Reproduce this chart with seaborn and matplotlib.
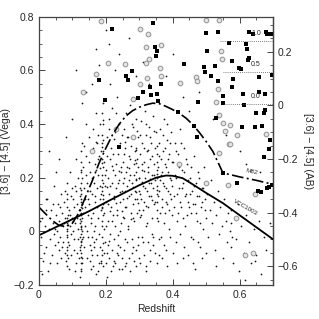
import numpy as np
import pandas as pd
import matplotlib
matplotlib.use("Agg")
import matplotlib.pyplot as plt
import seaborn as sns
from matplotlib.ticker import FixedLocator, FuncFormatter

# Vega -> AB offset for [3.6]-[4.5]
ab_offset = 0.47

# template tracks (redshift, Vega colour)
m82_z = [0.0, 0.02, 0.04, 0.06, 0.08, 0.10, 0.12, 0.14, 0.16, 0.18, 0.20, 0.22, 0.24,
         0.26, 0.28, 0.30, 0.32, 0.34, 0.36, 0.38, 0.40, 0.42, 0.44, 0.46, 0.48, 0.50,
         0.52, 0.54, 0.55, 0.60, 0.65, 0.70]
m82_v = [0.09, 0.065, 0.04, 0.022, 0.018, 0.03, 0.07, 0.13, 0.19, 0.255, 0.31, 0.36, 0.40,
         0.43, 0.45, 0.463, 0.472, 0.478, 0.476, 0.466, 0.454, 0.440, 0.422, 0.398, 0.368,
         0.335, 0.298, 0.245, 0.218, 0.203, 0.19, 0.175]

vcc_z = [0.0, 0.05, 0.10, 0.15, 0.20, 0.25, 0.30, 0.35, 0.38, 0.40, 0.43, 0.46, 0.50,
         0.55, 0.60, 0.65, 0.70]
vcc_v = [-0.015, 0.015, 0.045, 0.075, 0.108, 0.14, 0.172, 0.20, 0.208, 0.207, 0.198, 0.175,
         0.143, 0.105, 0.06, 0.015, -0.03]

# black squares
sq_z = [0.218, 0.341, 0.179, 0.197, 0.260, 0.266, 0.278, 0.296, 0.311, 0.332, 0.335, 0.353,
        0.356, 0.347, 0.353, 0.350, 0.434, 0.365, 0.239, 0.500, 0.535, 0.628, 0.640, 0.679,
        0.682, 0.694, 0.568, 0.619, 0.622, 0.502, 0.577, 0.625, 0.628, 0.494, 0.526, 0.598,
        0.604, 0.497, 0.514, 0.580, 0.658, 0.697, 0.535, 0.577, 0.550, 0.610, 0.658, 0.676,
        0.476, 0.550, 0.613, 0.649, 0.673, 0.676, 0.529, 0.607, 0.646, 0.667, 0.464, 0.416,
        0.691, 0.688, 0.673, 0.550, 0.592, 0.655, 0.664, 0.682, 0.688, 0.697, 0.473]
sq_v = [0.755, 0.778, 0.565, 0.490, 0.580, 0.565, 0.599, 0.498, 0.520, 0.539, 0.509, 0.513,
        0.487, 0.688, 0.673, 0.654, 0.625, 0.550, 0.315, 0.740, 0.744, 0.744, 0.737, 0.744,
        0.737, 0.737, 0.703, 0.699, 0.681, 0.673, 0.636, 0.640, 0.647, 0.613, 0.617, 0.610,
        0.606, 0.595, 0.580, 0.569, 0.576, 0.584, 0.561, 0.539, 0.505, 0.513, 0.520, 0.513,
        0.483, 0.479, 0.472, 0.442, 0.442, 0.453, 0.423, 0.390, 0.390, 0.393, 0.393, 0.446,
        0.341, 0.307, 0.278, 0.218, 0.181, 0.151, 0.147, 0.162, 0.166, 0.173, 0.352]

# grey open circles
ci_z = [0.185, 0.206, 0.170, 0.132, 0.302, 0.326, 0.320, 0.365, 0.329, 0.320, 0.257, 0.362,
        0.365, 0.422, 0.302, 0.323, 0.281, 0.470, 0.500, 0.538, 0.544, 0.547, 0.473, 0.535,
        0.538, 0.550, 0.556, 0.592, 0.679, 0.568, 0.538, 0.565, 0.646, 0.529, 0.571, 0.571,
        0.616, 0.640, 0.230, 0.160, 0.280, 0.420, 0.500, 0.590]
ci_v = [0.785, 0.628, 0.587, 0.520, 0.755, 0.737, 0.688, 0.696, 0.643, 0.628, 0.625, 0.610,
        0.580, 0.554, 0.550, 0.572, 0.494, 0.576, 0.789, 0.789, 0.673, 0.643, 0.561, 0.531,
        0.434, 0.405, 0.375, 0.360, 0.363, 0.326, 0.293, 0.173, 0.140, 0.483, 0.397, 0.326,
        -0.088, -0.081, 0.380, 0.300, 0.350, 0.250, 0.180, 0.050]

# background galaxy cloud (redshift, Vega colour)
cloud_low = [
    (0.005, -0.02), (0.010, 0.05), (0.012, -0.11), (0.018, 0.02), (0.022, -0.06), (0.025, 0.12),
    (0.028, -0.15), (0.031, 0.01), (0.034, -0.03), (0.036, 0.08), (0.039, -0.09), (0.041, 0.03),
    (0.044, -0.01), (0.046, 0.17), (0.048, -0.05), (0.051, 0.06), (0.053, -0.12), (0.055, 0.00),
    (0.057, 0.10), (0.059, -0.07), (0.061, 0.04), (0.063, -0.02), (0.065, 0.14), (0.067, -0.10),
    (0.069, 0.07), (0.071, 0.02), (0.073, -0.04), (0.075, 0.11), (0.077, -0.08), (0.079, 0.05),
    (0.082, -0.11), (0.083, -0.06), (0.084, -0.02), (0.085, 0.01), (0.083, 0.03), (0.086, 0.06),
    (0.084, 0.09), (0.085, -0.09), (0.083, 0.12), (0.086, -0.04), (0.084, 0.18), (0.085, 0.00),
    (0.083, -0.13), (0.086, 0.04), (0.089, 0.08), (0.091, -0.05), (0.093, 0.02), (0.095, 0.13),
    (0.097, -0.09), (0.099, 0.05), (0.092, 0.22), (0.096, -0.01), (0.098, 0.16), (0.090, -0.14),
    (0.003, 0.04), (0.015, -0.08), (0.020, 0.08), (0.033, -0.12), (0.043, 0.10), (0.049, 0.01),
    (0.058, -0.04), (0.062, 0.09), (0.068, -0.06), (0.074, 0.03), (0.078, 0.15), (0.084, -0.07),
    (0.085, 0.05), (0.084, 0.14), (0.083, -0.015), (0.086, 0.025), (0.088, -0.10), (0.094, 0.06),
]
cloud_013 = [
    (0.124, -0.17), (0.127, -0.14), (0.125, -0.12), (0.128, -0.10), (0.126, -0.08), (0.123, -0.07),
    (0.127, -0.05), (0.125, -0.04), (0.129, -0.03), (0.124, -0.02), (0.126, -0.01), (0.128, 0.00),
    (0.125, 0.01), (0.127, 0.02), (0.124, 0.03), (0.126, 0.04), (0.128, 0.05), (0.125, 0.06),
    (0.127, 0.07), (0.123, 0.08), (0.126, 0.09), (0.129, 0.10), (0.125, 0.12), (0.127, 0.14),
    (0.124, 0.16), (0.126, 0.18), (0.128, 0.20), (0.125, 0.23), (0.127, 0.26), (0.126, 0.30),
    (0.130, 0.33), (0.124, -0.06), (0.126, 0.11), (0.128, -0.12), (0.102, 0.00), (0.104, -0.07),
    (0.106, 0.09), (0.108, 0.03), (0.110, -0.12), (0.112, 0.15), (0.114, 0.05), (0.116, -0.03),
    (0.118, 0.20), (0.119, 0.08), (0.133, 0.24), (0.135, -0.06), (0.137, 0.12), (0.139, 0.02),
    (0.141, 0.28), (0.143, -0.10), (0.145, 0.18), (0.147, 0.06), (0.149, 0.35), (0.136, 0.32),
    (0.142, 0.40), (0.146, -0.02), (0.138, 0.09), (0.111, 0.27), (0.107, -0.15),
    (0.101, 0.12), (0.103, 0.04), (0.105, -0.03), (0.109, 0.17), (0.113, -0.08), (0.115, 0.10),
    (0.117, 0.01), (0.121, -0.10), (0.122, 0.13), (0.131, 0.07), (0.132, -0.02), (0.134, 0.16),
    (0.140, 0.21), (0.144, 0.00), (0.148, 0.12), (0.125, -0.15), (0.127, 0.22), (0.124, 0.045),
    (0.126, -0.035), (0.128, 0.085), (0.125, 0.155), (0.127, -0.095), (0.126, 0.015), (0.124, 0.065),
]
cloud_mid = [
    (0.151, 0.10), (0.152, -0.05), (0.154, 0.22), (0.156, 0.03), (0.157, 0.30), (0.159, 0.14),
    (0.160, -0.09), (0.162, 0.07), (0.163, 0.38), (0.165, 0.18), (0.166, 0.00), (0.168, 0.25),
    (0.169, 0.11), (0.171, 0.44), (0.172, -0.03), (0.174, 0.16), (0.175, 0.33), (0.177, 0.05),
    (0.178, 0.21), (0.180, 0.28), (0.181, -0.12), (0.183, 0.12), (0.184, 0.40), (0.186, 0.08),
    (0.188, -0.07), (0.189, -0.02), (0.190, 0.02), (0.191, 0.06), (0.189, 0.09), (0.192, 0.12),
    (0.190, 0.15), (0.191, 0.18), (0.189, 0.21), (0.192, 0.24), (0.190, 0.27), (0.191, 0.30),
    (0.189, 0.33), (0.190, 0.36), (0.192, 0.40), (0.190, 0.44), (0.191, 0.48), (0.189, 0.04),
    (0.191, 0.10), (0.190, 0.19), (0.194, 0.07), (0.196, 0.26), (0.198, -0.04), (0.199, 0.17),
    (0.150, 0.26), (0.153, 0.15), (0.155, 0.05), (0.158, 0.20), (0.161, 0.31), (0.164, -0.06),
    (0.167, 0.13), (0.170, 0.23), (0.173, 0.09), (0.176, 0.36), (0.179, -0.01), (0.182, 0.17),
    (0.185, 0.30), (0.187, 0.14), (0.193, 0.34), (0.195, 0.01), (0.197, 0.21), (0.190, 0.085),
    (0.191, 0.135), (0.189, 0.255), (0.192, -0.045), (0.190, 0.315), (0.191, 0.415), (0.189, 0.165),
    (0.158, -0.02), (0.168, 0.02), (0.176, 0.27), (0.183, 0.235), (0.171, 0.335),
    (0.201, 0.11), (0.203, 0.35), (0.204, -0.08), (0.206, 0.20), (0.207, 0.04), (0.209, 0.42),
    (0.210, 0.14), (0.212, 0.27), (0.213, -0.01), (0.215, 0.09), (0.216, 0.31), (0.218, 0.18),
    (0.219, 0.46), (0.221, 0.06), (0.222, 0.23), (0.224, -0.11), (0.225, 0.13), (0.227, 0.37),
    (0.228, 0.02), (0.230, 0.25), (0.231, 0.16), (0.233, 0.50), (0.234, 0.08), (0.236, 0.29),
    (0.237, -0.05), (0.239, 0.19), (0.240, 0.40), (0.242, 0.11), (0.243, 0.33), (0.245, 0.03),
    (0.246, 0.22), (0.248, 0.15), (0.249, -0.14), (0.214, 0.55), (0.226, 0.60),
    (0.200, 0.23), (0.202, 0.02), (0.205, 0.28), (0.208, 0.10), (0.211, 0.38), (0.214, 0.17),
    (0.217, 0.04), (0.220, 0.29), (0.223, 0.12), (0.226, 0.21), (0.229, 0.44), (0.232, 0.06),
    (0.235, 0.18), (0.238, 0.32), (0.241, 0.00), (0.244, 0.24), (0.247, 0.36), (0.203, 0.165),
    (0.209, -0.035), (0.217, 0.245), (0.223, 0.345), (0.229, 0.105), (0.235, -0.015), (0.241, 0.145),
    (0.247, 0.075), (0.212, 0.075), (0.238, 0.225),
    (0.251, 0.26), (0.252, 0.12), (0.253, 0.38), (0.254, 0.05), (0.255, 0.20), (0.256, 0.31),
    (0.257, -0.03), (0.258, 0.15), (0.259, 0.44), (0.261, 0.09), (0.262, 0.24), (0.264, 0.17),
    (0.265, 0.35), (0.267, 0.01), (0.268, 0.28), (0.270, 0.13), (0.271, 0.47), (0.273, 0.21),
    (0.274, 0.07), (0.276, 0.32), (0.277, -0.08), (0.279, 0.18), (0.280, 0.39), (0.282, 0.10),
    (0.283, 0.25), (0.285, 0.04), (0.286, 0.30), (0.288, 0.15), (0.289, 0.42), (0.290, 0.22),
    (0.291, 0.19), (0.292, 0.27), (0.293, 0.12), (0.295, 0.35), (0.296, -0.02), (0.298, 0.20),
    (0.299, 0.08), (0.250, 0.18), (0.253, 0.29), (0.256, 0.09), (0.259, 0.22), (0.262, 0.35),
    (0.265, 0.02), (0.268, 0.19), (0.271, 0.27), (0.274, 0.14), (0.277, 0.40), (0.280, 0.05),
    (0.283, 0.21), (0.286, 0.12), (0.289, 0.31), (0.292, 0.07), (0.295, 0.24), (0.298, 0.15),
    (0.252, 0.055), (0.258, 0.335), (0.263, 0.125), (0.269, 0.235), (0.275, 0.045), (0.281, 0.165),
    (0.287, 0.265), (0.293, 0.375), (0.297, 0.105), (0.290, 0.195), (0.291, 0.255), (0.290, 0.145),
    (0.291, 0.305),
    (0.301, 0.29), (0.303, 0.14), (0.304, 0.41), (0.306, 0.06), (0.307, 0.23), (0.309, 0.33),
    (0.310, 0.17), (0.312, -0.04), (0.313, 0.26), (0.315, 0.11), (0.316, 0.45), (0.318, 0.20),
    (0.319, 0.36), (0.321, 0.02), (0.322, 0.15), (0.324, 0.30), (0.325, 0.24), (0.327, 0.09),
    (0.328, 0.39), (0.330, 0.18), (0.331, -0.07), (0.333, 0.27), (0.334, 0.13), (0.336, 0.33),
    (0.337, 0.21), (0.339, 0.05), (0.340, 0.43), (0.342, 0.16), (0.343, 0.25), (0.345, 0.10),
    (0.346, 0.31), (0.348, 0.19), (0.349, 0.37), (0.352, 0.08), (0.353, 0.14), (0.354, 0.20),
    (0.352, 0.26), (0.353, 0.32), (0.354, 0.11), (0.352, 0.17), (0.353, 0.23),
    (0.300, 0.20), (0.303, 0.36), (0.306, 0.12), (0.309, 0.25), (0.312, 0.08), (0.315, 0.31),
    (0.318, 0.16), (0.321, 0.40), (0.324, 0.03), (0.327, 0.22), (0.330, 0.13), (0.333, 0.35),
    (0.336, 0.18), (0.339, 0.28), (0.342, -0.02), (0.345, 0.21), (0.348, 0.11), (0.302, 0.055),
    (0.308, 0.185), (0.314, 0.225), (0.320, 0.095), (0.326, 0.305), (0.332, 0.195), (0.338, 0.115),
    (0.344, 0.375), (0.352, 0.05), (0.353, 0.29), (0.354, 0.155), (0.352, 0.215),
    (0.356, 0.04), (0.358, 0.28), (0.360, 0.15), (0.362, 0.38), (0.364, 0.21), (0.366, -0.02),
    (0.368, 0.12), (0.370, 0.30), (0.372, 0.18), (0.374, 0.42), (0.376, 0.07), (0.378, 0.25),
    (0.380, 0.16), (0.382, 0.34), (0.384, 0.10), (0.386, 0.22), (0.388, 0.01), (0.390, 0.29),
    (0.392, 0.14), (0.394, 0.37), (0.396, 0.19), (0.398, 0.06),
    (0.355, 0.24), (0.357, 0.13), (0.359, 0.33), (0.361, 0.07), (0.363, 0.19), (0.365, 0.27),
    (0.367, 0.09), (0.369, 0.22), (0.371, 0.36), (0.373, 0.03), (0.375, 0.17), (0.377, 0.31),
    (0.379, 0.11), (0.381, 0.24), (0.383, 0.40), (0.385, 0.15), (0.387, 0.27), (0.389, 0.08),
    (0.391, 0.20), (0.393, 0.33), (0.395, 0.12), (0.397, 0.26), (0.399, 0.17),
]
# faint lower part of the cloud, under the VCC1003 track
cloud_under = [
    (0.152, -0.11), (0.157, -0.07), (0.163, -0.13), (0.166, -0.04), (0.174, -0.09),
    (0.178, -0.15), (0.183, -0.06), (0.187, -0.12), (0.190, -0.09), (0.191, -0.13),
    (0.196, -0.08), (0.201, -0.12), (0.206, -0.05), (0.211, -0.10), (0.215, -0.15),
    (0.219, -0.07), (0.224, -0.03), (0.228, -0.12), (0.232, -0.08), (0.238, -0.14),
    (0.243, -0.06), (0.247, -0.10), (0.253, -0.07), (0.258, -0.13), (0.263, -0.04),
    (0.269, -0.10), (0.273, -0.15), (0.279, -0.03), (0.284, -0.11), (0.289, -0.07),
    (0.291, -0.13), (0.297, -0.05), (0.303, -0.12), (0.308, -0.02), (0.314, -0.09),
    (0.319, -0.15), (0.326, -0.04), (0.333, -0.11), (0.338, -0.01), (0.347, -0.08),
    (0.353, -0.12), (0.358, -0.03), (0.367, -0.10), (0.375, -0.05), (0.384, -0.13),
    (0.392, -0.02), (0.401, -0.08), (0.412, -0.12), (0.421, -0.01), (0.433, -0.06),
    (0.445, -0.09), (0.456, -0.02), (0.468, -0.14), (0.477, -0.04), (0.489, -0.10),
]
cloud_high = [
    (0.402, 0.26), (0.405, 0.13), (0.408, 0.33), (0.411, 0.20), (0.414, 0.04), (0.417, 0.29),
    (0.420, 0.16), (0.423, 0.38), (0.426, 0.09), (0.429, 0.23), (0.432, 0.18), (0.435, 0.31),
    (0.438, 0.02), (0.441, 0.14), (0.444, 0.25), (0.447, 0.11), (0.451, 0.20), (0.454, 0.07),
    (0.457, 0.15), (0.460, -0.03), (0.463, 0.28), (0.466, 0.10), (0.469, 0.18), (0.472, 0.04),
    (0.475, 0.22), (0.478, 0.13), (0.481, -0.06), (0.484, 0.09), (0.487, 0.16), (0.490, 0.01),
    (0.493, 0.24), (0.496, 0.12), (0.499, 0.05), (0.502, 0.14), (0.506, -0.02), (0.510, 0.08),
    (0.403, 0.09), (0.407, 0.21), (0.410, 0.30), (0.413, 0.14), (0.416, 0.07), (0.419, 0.24),
    (0.422, 0.11), (0.425, 0.33), (0.428, 0.16), (0.431, 0.05), (0.434, 0.22), (0.437, 0.13),
    (0.440, 0.27), (0.443, 0.06), (0.446, 0.19), (0.449, 0.09), (0.452, 0.14), (0.456, 0.24),
    (0.461, 0.10), (0.465, 0.17), (0.470, 0.07), (0.474, 0.13), (0.479, 0.20), (0.483, 0.03),
    (0.488, 0.11), (0.492, 0.16), (0.497, 0.08),
    (0.514, 0.19), (0.518, 0.03), (0.522, 0.11), (0.526, -0.07), (0.530, 0.06), (0.534, 0.15),
    (0.538, -0.01), (0.542, 0.09), (0.546, 0.02), (0.550, -0.10), (0.554, 0.12), (0.558, 0.04),
    (0.562, -0.04), (0.566, 0.07), (0.570, 0.00), (0.574, -0.06), (0.575, 0.03), (0.576, -0.02),
    (0.574, 0.08), (0.580, -0.12), (0.585, 0.05), (0.590, -0.03), (0.595, 0.10), (0.598, -0.15),
    (0.605, 0.02), (0.612, -0.08), (0.620, 0.06), (0.628, -0.04), (0.635, -0.12), (0.642, 0.01),
    (0.650, -0.09), (0.658, 0.04), (0.665, -0.16), (0.672, -0.02), (0.680, -0.07), (0.690, 0.03),
    (0.615, -0.18), (0.645, -0.11),
]
cloud_outliers = [
    (0.16, 0.55), (0.18, 0.62), (0.21, 0.70), (0.24, 0.66), (0.27, 0.72), (0.29, 0.58),
    (0.31, 0.63), (0.33, 0.55), (0.38, 0.58), (0.40, 0.66), (0.43, 0.50), (0.45, 0.45),
    (0.48, 0.52), (0.52, 0.42), (0.56, 0.36), (0.60, 0.30), (0.62, 0.25), (0.66, 0.22),
    (0.05, 0.22), (0.08, 0.35), (0.10, 0.42), (0.13, 0.48), (0.02, 0.12), (0.01, -0.16),
    (0.03, 0.30), (0.06, 0.27), (0.14, 0.52), (0.17, 0.68), (0.11, 0.60), (0.20, 0.75),
    (0.155, -0.14), (0.17, -0.16), (0.185, -0.11), (0.205, -0.17), (0.22, -0.13), (0.235, -0.09),
    (0.26, -0.12), (0.28, -0.06), (0.30, -0.10), (0.32, -0.13), (0.34, -0.05), (0.36, -0.09),
    (0.38, -0.07), (0.41, -0.04), (0.43, -0.10), (0.46, -0.12), (0.50, -0.08), (0.53, -0.13),
]

# dotted reference levels at the right
level_labels = ["1.0", "0.5", "0.0"]
level_v = [0.71, 0.595, 0.475]
level_z0 = [0.541, 0.550, 0.553]

cloud = pd.DataFrame(cloud_low + cloud_013 + cloud_mid + cloud_under + cloud_high
                     + cloud_outliers, columns=["z", "v"])
squares = pd.DataFrame({"z": sq_z, "v": sq_v})
circles = pd.DataFrame({"z": ci_z, "v": ci_v})
m82 = pd.DataFrame({"z": m82_z, "v": m82_v})
vcc = pd.DataFrame({"z": vcc_z, "v": vcc_v})

sns.set_style("ticks")
plt.rcParams["font.family"] = ["Liberation Sans", "DejaVu Sans"]


def fmt(v, pos):
    if abs(v) < 1e-9:
        return "0"
    return f"{v:.1f}".replace("-", "\u2212")


fig = plt.figure(figsize=(3.19, 3.19), dpi=100)
ax = fig.add_axes([0.122, 0.107, 0.734, 0.840])

sns.scatterplot(data=cloud, x="z", y="v", ax=ax, s=1.6, color="#1a1a1a",
                linewidth=0, legend=False)
sns.scatterplot(data=circles, x="z", y="v", ax=ax, s=11, facecolor="#e6e6e6",
                edgecolor="#9a9a9a", linewidth=0.8, legend=False)
sns.scatterplot(data=squares, x="z", y="v", ax=ax, s=9, marker="s", color="black",
                linewidth=0, legend=False)
sns.lineplot(data=vcc, x="z", y="v", ax=ax, color="black", lw=1.3, sort=False,
             estimator=None)
sns.lineplot(data=m82, x="z", y="v", ax=ax, color="black", lw=1.2, sort=False,
             estimator=None, dashes=False, linestyle=(0, (7, 2, 1.2, 2)))

for lab, lv, lz in zip(level_labels, level_v, level_z0):
    ax.plot([lz, 0.7], [lv, lv], color="#555555", lw=0.6, ls=(0, (1, 1.5)))
    ax.text(0.649, lv + 0.028, lab, fontsize=5, ha="center", va="center")

ax.text(0.637, 0.221, "M82", fontsize=4.5, rotation=-12, ha="center", va="center")
ax.text(0.616, 0.088, "VCC1003", fontsize=4.5, rotation=-30, ha="center", va="center")

ax.set_xlim(0, 0.7)
ax.set_ylim(-0.2, 0.8)
ax.xaxis.set_major_locator(FixedLocator([0, 0.2, 0.4, 0.6]))
ax.xaxis.set_minor_locator(FixedLocator([0.05 * i for i in range(15)]))
ax.yaxis.set_major_locator(FixedLocator([-0.2, 0, 0.2, 0.4, 0.6, 0.8]))
ax.yaxis.set_minor_locator(FixedLocator([-0.2 + 0.05 * i for i in range(21)]))
ax.xaxis.set_major_formatter(FuncFormatter(fmt))
ax.yaxis.set_major_formatter(FuncFormatter(fmt))
ax.tick_params(which="both", direction="in", top=True, right=False, labelsize=7.5,
               color="#444444")
ax.tick_params(which="major", length=4.5, width=0.7)
ax.tick_params(which="minor", length=2.3, width=0.6)
for sp in ax.spines.values():
    sp.set_linewidth(0.9)
    sp.set_color("#444444")

sec = ax.secondary_yaxis("right", functions=(lambda v: v - ab_offset, lambda a: a + ab_offset))
sec.yaxis.set_major_locator(FixedLocator([-0.6, -0.4, -0.2, 0, 0.2]))
sec.yaxis.set_minor_locator(FixedLocator([-0.65 + 0.05 * i for i in range(20)]))
sec.yaxis.set_major_formatter(FuncFormatter(fmt))
sec.tick_params(which="both", direction="in", labelsize=7.5, color="#444444")
sec.tick_params(which="major", length=4.5, width=0.7)
sec.tick_params(which="minor", length=2.3, width=0.6)
sec.spines["right"].set_linewidth(0.9)
sec.spines["right"].set_color("#444444")
sec.set_ylabel("[3.6] \u2212 [4.5] (AB)", fontsize=7.5, rotation=270, labelpad=3,
               va="bottom")

ax.set_xlabel("Redshift", fontsize=7.5, labelpad=3)
ax.set_ylabel("[3.6] \u2212 [4.5] (Vega)", fontsize=7.5, labelpad=2)

fig.savefig("out.png", dpi=100)
